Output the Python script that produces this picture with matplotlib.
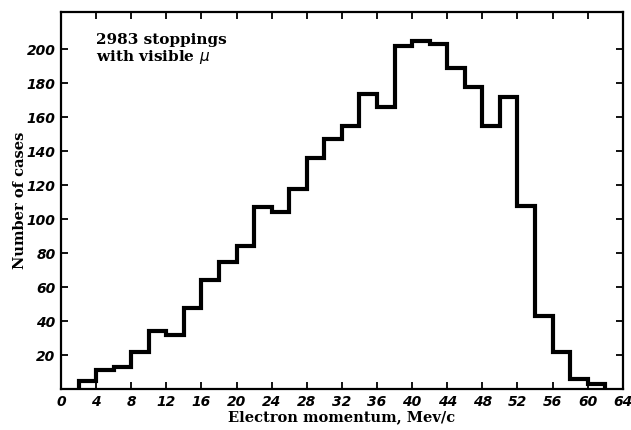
import numpy as np
import matplotlib.pyplot as plt

# межі бінів (Мев/с) і кількість випадків
bin_edges = np.arange(2, 64, 2)
counts = [5, 11, 13, 22, 34, 32, 48, 64, 75, 84,
          107, 104, 118, 136, 147, 155, 174, 166, 202, 205,
          203, 189, 178, 155, 172, 108, 43, 22, 6, 3]
x_ticks = list(range(0, 65, 4))
y_ticks = list(range(20, 201, 20))

fig = plt.figure(figsize=(6.31, 4.30), dpi=100)
ax = fig.add_axes([0.0967, 0.0953, 0.8903, 0.8767])

ax.stairs(counts, bin_edges, color='black', lw=3.0, baseline=0)

ax.set_xlim(0, 64)
ax.set_ylim(0, 222)
ax.set_xticks(x_ticks)
ax.set_yticks(y_ticks)
ax.tick_params(direction='in', length=5, width=1.3, top=True, right=True,
               labelright=False, labeltop=False, pad=4)
for lbl in ax.get_xticklabels() + ax.get_yticklabels():
    lbl.set_fontstyle('italic')
    lbl.set_fontsize(10)
    lbl.set_fontweight('bold')
for s in ax.spines.values():
    s.set_linewidth(1.6)

ax.set_xlabel('Electron momentum, Mev/c', family='DejaVu Serif', weight='bold',
              fontsize=10.5, labelpad=1)
ax.set_ylabel('Number of cases', family='DejaVu Serif', weight='bold',
              fontsize=10.5, labelpad=0)

ax.text(0.062, 0.945, '2983 stoppings\nwith visible $\\mu$', transform=ax.transAxes,
        family='DejaVu Serif', weight='bold', fontsize=11, va='top', ha='left',
        linespacing=1.1)

fig.savefig('out.png', dpi=100)
